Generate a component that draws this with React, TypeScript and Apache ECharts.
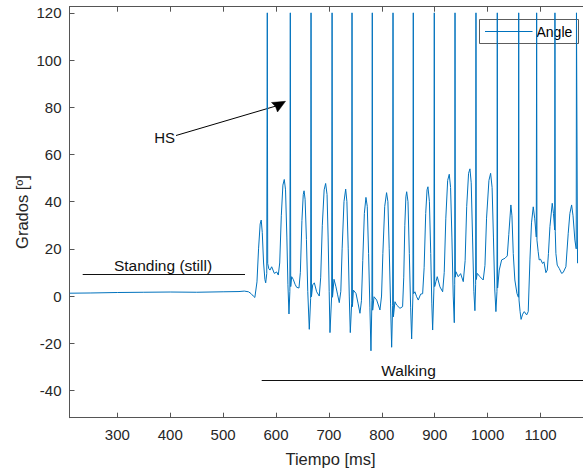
import React, { useEffect, useRef } from "react";
import * as echarts from "echarts";

// Knee angle recording: time (ms) and angle (degrees)
const timeMs = [
  210, 250, 300, 350, 400, 450, 500, 530, 540, 548, 553, 557, 560,
  564, 567, 570, 572, 574, 576.5, 579, 580.5, 582.5, 583.5, 584.3, 586.5, 588.6, 591.8, 596.8, 601.3, 604.3,
  607, 610, 613, 615.6, 618, 620.5, 622.5, 624.5, 626.2, 627, 627.8, 629.6, 632.5, 636, 639, 643.4,
  646, 649, 651.5, 653, 655, 657.5, 660, 662.9, 665.5, 666.2, 667, 669.3, 672.4, 676.8, 681.8,
  684.5, 687.5, 691, 693.8, 696.5, 698.5, 700.5, 702, 705.2, 706, 706.8, 709.6, 713.3, 716.5, 719.6,
  722.5, 725, 728.5, 731.7, 734, 736.5, 738.5, 740.4, 743, 743.7, 744.4, 746.3, 751.2, 755, 758.7,
  761.5, 764, 767, 770, 772.5, 775, 777.5, 779.5, 781.3, 782, 782.7, 785.3, 790.3, 796.5,
  799.5, 802, 805.5, 809, 811.5, 814, 816.5, 818.6, 820.5, 821.2, 821.9, 824.8, 828, 834.3, 839.3,
  841.5, 843.5, 845.5, 847, 849.5, 852, 854.5, 856.4, 858.8, 859.5, 860.2, 862.6, 865.8, 868.9, 873.4, 877.2,
  880, 883, 885.5, 887.2, 890, 892.5, 894.5, 896.1, 898.5, 899.2, 899.9, 902.3, 904.8, 909.9, 915,
  918, 921, 924.5, 927.5, 930, 932.5, 935, 937, 937.8, 938.4, 939, 940.1, 944.5, 949, 954,
  957.5, 960.5, 964, 966.6, 969, 971.5, 974, 976, 977.4, 978, 978.6, 980.4, 985.5, 991.7,
  995, 998, 1002.5, 1005.7, 1008.5, 1011, 1013.5, 1015.7, 1017.7, 1018.3, 1018.9, 1022, 1026.5, 1032.8, 1037.2,
  1040, 1044, 1046, 1048.5, 1051.5, 1055.5, 1058.2, 1058.8, 1059.4, 1061.4, 1063.3, 1066.2, 1069.3, 1073.8, 1076.8,
  1080, 1083, 1086.3, 1089, 1092, 1092.7, 1093.3, 1095.6, 1097.5, 1100.1, 1103.9, 1106.5, 1110.2, 1112.8,
  1115, 1117.8, 1122.2, 1124.5, 1126.8, 1127.3, 1127.9, 1129.1, 1131.6, 1135.4, 1139.9, 1142.9, 1148,
  1152.4, 1155.5, 1158.8, 1161.5, 1165, 1167.5, 1168, 1169.3, 1170,
];

const angleDeg = [
  1.2, 1.3, 1.5, 1.6, 1.7, 1.6, 1.8, 1.9, 2.1, 1.8, 1.0, 0.0, -0.6,
  6, 20, 30.5, 32.2, 27, 14, 7, 5.6, 9.5, 120, 13.8, 11.5, 11, 12.4, 9.6, 10.2, 8.9,
  14, 34, 47, 49.4, 45, 25, 5, -7.6, 2, 120, 4, 8.2, 7.1, 5, 3.7, 3.4,
  10, 32, 43, 44.6, 41, 24, 2, -14.1, -1, 120, -0.3, 4.7, 5.6, 1.8, 0,
  8, 30, 45, 47.7, 43, 25, 2, -15.5, 0, 120, -0.5, 7.1, 3.9, 0.5, -2.8,
  2, 20, 40, 45.3, 40, 20, 0, -15.5, -3, 120, -4.5, 2.5, 1.1, -3, -7.3,
  -2, 15, 35, 41.8, 38, 18, -5, -23.2, -2, 120, -6, -0.3, -1.7, -5.9,
  0, 18, 38, 43.8, 40, 20, -3, -21.7, -4, 120, -8.8, -2.4, -3.8, -5.2, -4.5,
  8, 30, 42, 44.2, 40, 18, -5, -18.2, 0, 120, 1, 1.8, -0.3, -1.7, 0.8, 1,
  12, 35, 45, 46.3, 40, 18, -3, -14.4, 3, 120, 4, 6.1, 8.2, 3.9, 1.8,
  10, 33, 49, 51.6, 46, 25, 0, -11.3, 5, 120, 8, 10.3, 8.2, 9.5, 6.1,
  15, 38, 52, 53.9, 48, 25, 2, -6.2, 5, 120, 7, 9.6, 8.2, 6.8,
  13, 33, 49, 52, 46, 25, 3, -6.6, 2, 120, 3.4, 11, 15.3, 16, 17,
  26, 38.6, 34, 18, 6.8, 1.1, -0.5, 120, -1.7, -6.6, -9.9, -7.7, -6.6, -8, -6.6,
  15.3, 31, 37.8, 33, 25, 120, 23.7, 18.8, 15.3, 15.6, 13.8, 14.5, 9.9, 11,
  18, 29.4, 39.3, 35, 28, 120, 27.2, 18, 13.1, 11.7, 9.6, 10, 12.4,
  26.6, 35, 38.6, 34, 23.7, 20, 120, 120, 13.9,
];

const xTicks = [300, 400, 500, 600, 700, 800, 900, 1000, 1100];
const yTicks = [-40, -20, 0, 20, 40, 60, 80, 100, 120];
const seriesName = "Angle";
const xTitle = "Tiempo [ms]";
const yTitle = "Grados [º]";

export default function App() {
  const ref = useRef<HTMLDivElement>(null);

  useEffect(() => {
    const chart = echarts.init(ref.current as HTMLDivElement, null, { renderer: "svg" });
    const font = "'Liberation Sans', Arial, Helvetica, sans-serif";
    const axisColor = "#555555";
    const textColor = "#262626";
    const lineColor = "#0072BD";
    const X_MIN = 209.6;
    const X_MAX = 1196.4;
    const Y_MIN = -51.55;
    const Y_MAX = 122.6;

    const axisLine = { show: true, onZero: false, lineStyle: { color: axisColor, width: 1 } };
    const tickStyle = { color: axisColor, width: 1 };
    const plain = (v: number) => String(v);

    chart.setOption({
      animation: false,
      backgroundColor: "#ffffff",
      grid: {
        left: 69.5,
        top: 6.7,
        width: 522,
        height: 411,
        containLabel: false,
        outerBoundsMode: "none",
      },
      xAxis: [
        {
          type: "value",
          min: X_MIN,
          max: X_MAX,
          position: "bottom",
          axisLine,
          axisTick: { show: true, inside: true, length: 5, customValues: xTicks, lineStyle: tickStyle },
          axisLabel: { customValues: xTicks, formatter: plain, color: textColor, fontSize: 15, fontFamily: font, margin: 9 },
          splitLine: { show: false },
        },
        {
          type: "value",
          min: X_MIN,
          max: X_MAX,
          position: "top",
          axisLine,
          axisTick: { show: true, inside: true, length: 5, customValues: xTicks, lineStyle: tickStyle },
          axisLabel: { show: false },
          splitLine: { show: false },
        },
      ],
      yAxis: {
        type: "value",
        min: Y_MIN,
        max: Y_MAX,
        axisLine,
        axisTick: { show: true, inside: true, length: 5, customValues: yTicks, lineStyle: tickStyle },
        axisLabel: { customValues: yTicks, formatter: plain, color: textColor, fontSize: 15, fontFamily: font, margin: 8 },
        splitLine: { show: false },
      },
      series: [
        {
          type: "line",
          name: seriesName,
          xAxisIndex: 0,
          data: timeMs.map((t, i) => [t, angleDeg[i]]),
          showSymbol: false,
          symbol: "none",
          clip: true,
          lineStyle: { color: lineColor, width: 1 },
          itemStyle: { color: lineColor },
        },
      ],
      graphic: [
        {
          type: "text",
          x: 22,
          y: 212,
          rotation: Math.PI / 2,
          style: { text: yTitle, font: `16.5px ${font}`, fill: textColor, align: "center", verticalAlign: "middle" },
        },
        {
          type: "text",
          x: 330.5,
          y: 459,
          style: { text: xTitle, font: `16.5px ${font}`, fill: textColor, align: "center", verticalAlign: "middle" },
        },
        {
          type: "text",
          x: 175,
          y: 137,
          style: { text: "HS", font: `15px ${font}`, fill: "#111", align: "right", verticalAlign: "middle" },
        },
        {
          type: "line",
          shape: { x1: 176, y1: 135.5, x2: 276, y2: 106 },
          style: { stroke: "#000", lineWidth: 1 },
        },
        {
          type: "polygon",
          shape: { points: [[285.5, 101.3], [271.5, 102.5], [275.5, 106.5], [277.5, 112]] },
          style: { fill: "#000", stroke: "#000", lineWidth: 0.5 },
        },
        {
          type: "text",
          x: 163,
          y: 265.5,
          style: { text: "Standing (still)", font: `15.5px ${font}`, fill: "#111", align: "center", verticalAlign: "middle" },
        },
        {
          type: "line",
          shape: { x1: 82.7, y1: 274.5, x2: 245, y2: 274.5 },
          style: { stroke: "#111", lineWidth: 1 },
        },
        {
          type: "text",
          x: 408.5,
          y: 370.5,
          style: { text: "Walking", font: `15.5px ${font}`, fill: "#111", align: "center", verticalAlign: "middle" },
        },
        {
          type: "line",
          shape: { x1: 261.7, y1: 380.5, x2: 583, y2: 380.5 },
          style: { stroke: "#111", lineWidth: 1 },
        },
        {
          type: "group",
          z: 100,
          children: [
            {
              type: "rect",
              shape: { x: 479.5, y: 19.5, width: 99, height: 24 },
              style: { fill: "#ffffff", stroke: "#333333", lineWidth: 0.8 },
            },
            {
              type: "line",
              shape: { x1: 485, y1: 31.5, x2: 532.5, y2: 31.5 },
              style: { stroke: lineColor, lineWidth: 1 },
            },
            {
              type: "text",
              x: 536.5,
              y: 31.5,
              style: { text: seriesName, font: `14px ${font}`, fill: "#000", align: "left", verticalAlign: "middle" },
            },
          ],
        },
      ],
    });

    return () => chart.dispose();
  }, []);

  return <div ref={ref} style={{ position: "absolute", left: 0, top: 0, width: 583, height: 474 }} />;
}
